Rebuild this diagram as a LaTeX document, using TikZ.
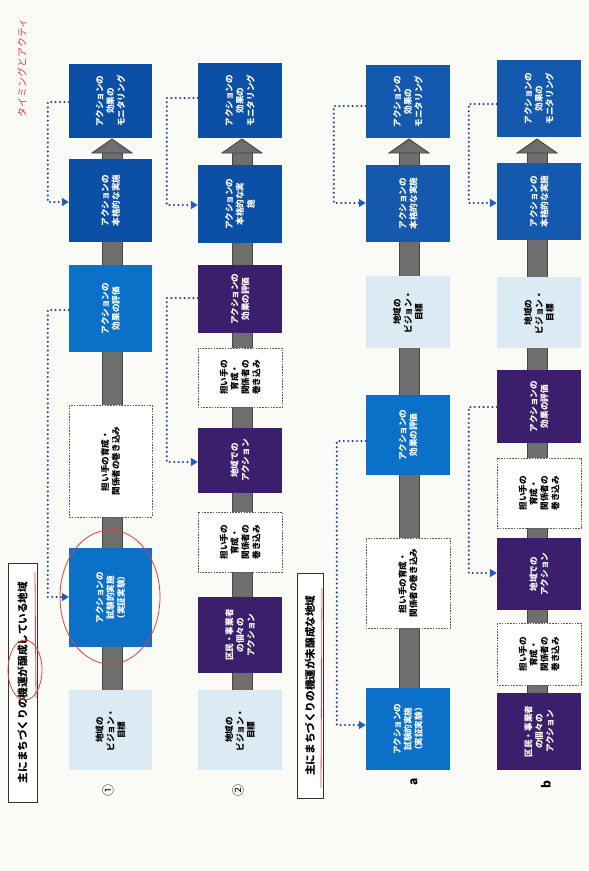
\documentclass[tikz,border=0pt]{standalone}
\usepackage{fontspec}
\setmainfont{Noto Sans CJK JP}
\usetikzlibrary{arrows.meta}
\definecolor{bg}{HTML}{FAFAF7}
\definecolor{dkblue}{HTML}{0C4FA6}
\definecolor{mdblue}{HTML}{1459AE}
\definecolor{brblue}{HTML}{0A70C8}
\definecolor{purp}{HTML}{3B1F6C}
\definecolor{ltblue}{HTML}{DCEAF3}
\definecolor{barg}{HTML}{6E6E6E}
\definecolor{bare}{HTML}{454545}
\definecolor{dotblue}{HTML}{1E479C}
\definecolor{tipblue}{HTML}{1F5DBE}
\definecolor{annot}{HTML}{E0413F}
\newcommand\bx[7]{\node[#2, minimum width=#6pt, minimum height=#5pt] (#1) at (#3,#4) {#7};}
\begin{document}
\begin{tikzpicture}[x=1pt,y=-1pt,
  base/.style={rotate=90, inner sep=1pt, align=center, font=\bfseries\fontsize{8.6}{10.8}\selectfont},
  dkbox/.style={base, fill=dkblue, text=white},
  mdbox/.style={base, fill=mdblue, text=white},
  brbox/.style={base, fill=brblue, text=white},
  pbox/.style={base, fill=purp, text=white},
  lbox/.style={base, fill=ltblue, text=black},
  dbox/.style={base, fill=white, draw=black!65, line width=0.9pt, dash pattern=on 1.6pt off 1.2pt, text=black},
  hdr/.style={rotate=90, draw=black!80, line width=0.9pt, fill=white, inner sep=1pt, font=\bfseries\fontsize{10.6}{12}\selectfont},
  lbl/.style={rotate=90, font=\fontsize{12}{14}\selectfont},
  bar/.style={fill=barg, draw=bare, line width=0.9pt},
  dotc/.style={draw=dotblue, line width=2.3pt, dash pattern=on 0pt off 4.4pt, line cap=round,
     -{Triangle[length=7pt, width=8pt, fill=tipblue, color=tipblue]}},
  ann/.style={draw=annot, line width=0.8pt}
]
\fill[bg] (0,0) rectangle (589,871);
\useasboundingbox (0,0) rectangle (589,871);

% gray progress bars with arrow heads
\foreach \cx in {112,242,409,537}{
  \draw[bar] (\cx-10,730) rectangle (\cx+10,152);
  \draw[bar] (\cx,139) -- (\cx+20,153) -- (\cx-20,153) -- cycle;
}

% headers
\node[hdr, minimum width=239pt, minimum height=29pt] (h1) at (22.5,682.5) {主にまちづくりの機運が醸成している地域};
\node[hdr, minimum width=225pt, minimum height=26pt] (h2) at (310,685.5) {主にまちづくりの機運が未醸成な地域};

% row labels
\node[lbl] (l1) at (108,790) {①};
\node[lbl] (l2) at (238,790) {②};
\node[lbl, font=\bfseries\fontsize{12}{14}\selectfont] (la) at (414,782) {a};
\node[lbl, font=\bfseries\fontsize{12}{14}\selectfont] (lb) at (546,785) {b};

% column 1
\bx{v1}{lbox}{110.5}{730}{83}{80}{地域の\\ビジョン・\\目標}
\bx{t1}{brbox}{110.5}{597.5}{83}{99}{アクションの\\試験的実施\\（実証実験）}
\bx{d1}{dbox}{110.5}{461}{83}{112}{担い手の育成・\\関係者の巻き込み}
\bx{e1}{brbox}{110.5}{308.5}{83}{87}{アクションの\\効果の評価}
\bx{f1}{dkbox}{110.5}{200.5}{83}{83}{アクションの\\本格的な実施}
\bx{m1}{dkbox}{110.5}{101}{83}{74}{アクションの\\効果の\\モニタリング}

% column 2
\bx{v2}{lbox}{240}{730}{84}{80}{地域の\\ビジョン・\\目標}
\bx{i2}{pbox}{240}{635}{84}{76}{区民・事業者\\の個々の\\アクション}
\bx{da2}{dbox}{240}{542}{84}{60}{担い手の\\育成・\\関係者の\\巻き込み}
\bx{c2}{pbox}{240}{460.5}{84}{65}{地域での\\アクション}
\bx{db2}{dbox}{240}{377.5}{84}{59}{担い手の\\育成・\\関係者の\\巻き込み}
\bx{e2}{pbox}{240}{299}{84}{68}{アクションの\\効果の評価}
\bx{f2}{dkbox}{240}{204}{84}{78}{アクションの\\本格的な実\\施}
\bx{m2}{dkbox}{240}{100.5}{84}{75}{アクションの\\効果の\\モニタリング}

% column a
\bx{ta}{brbox}{408}{729}{84}{82}{アクションの\\試験的実施\\（実証実験）}
\bx{da}{dbox}{408}{583}{84}{90}{担い手の育成・\\関係者の巻き込み}
\bx{ea}{brbox}{408}{435}{84}{80}{アクションの\\効果の評価}
\bx{va}{lbox}{408}{312}{84}{72}{地域の\\ビジョン・\\目標}
\bx{fa}{mdbox}{408}{203.5}{84}{77}{アクションの\\本格的な実施}
\bx{ma}{mdbox}{408}{101.5}{84}{73}{アクションの\\効果の\\モニタリング}

% column b
\bx{ib}{pbox}{539}{731.5}{84}{77}{区民・事業者\\の個々の\\アクション}
\bx{dab}{dbox}{539}{654}{84}{62}{担い手の\\育成・\\関係者の\\巻き込み}
\bx{cb}{pbox}{539}{574}{84}{72}{地域での\\アクション}
\bx{dbb}{dbox}{539}{493}{84}{70}{担い手の\\育成・\\関係者の\\巻き込み}
\bx{eb}{pbox}{539}{406.5}{84}{73}{アクションの\\効果の評価}
\bx{vb}{lbox}{539}{312.5}{84}{71}{地域の\\ビジョン・\\目標}
\bx{fb}{mdbox}{539}{201.5}{84}{77}{アクションの\\本格的な実施}
\bx{mb}{mdbox}{539}{98.5}{84}{77}{アクションの\\効果の\\モニタリング}

% dotted feedback connectors
\draw[dotc] (e1.north |- 0,310) -- ++(-21,0) |- (t1.north |- 0,597);
\draw[dotc] (m1.north |- 0,102) -- ++(-21,0) |- (f1.north |- 0,202);
\draw[dotc] (e2.north |- 0,298) -- ++(-31,0) |- (c2.north |- 0,462);
\draw[dotc] (m2.north |- 0,98) -- ++(-31,0) |- (f2.north |- 0,205);
\draw[dotc] (ea.north |- 0,441) -- ++(-29,0) |- (ta.north |- 0,725);
\draw[dotc] (ma.north |- 0,106) -- ++(-32,0) |- (fa.north |- 0,203);
\draw[dotc] (eb.north |- 0,407) -- ++(-28,0) |- (cb.north |- 0,573);
\draw[dotc] (mb.north |- 0,104) -- ++(-28,0) |- (fb.north |- 0,203);

% red hand annotations
\draw[ann] (110,597) ellipse [x radius=50, y radius=67];
\draw[ann] (25,670) ellipse [x radius=17, y radius=30];
\draw[ann] (35,572) -- (36,698);
\draw[ann] (322,588) -- (321,788);
\node[rotate=90, text=annot, font=\fontsize{10}{12}\selectfont] (hw) at (22,68) {タイミングとアクティ};
\end{tikzpicture}
\end{document}
